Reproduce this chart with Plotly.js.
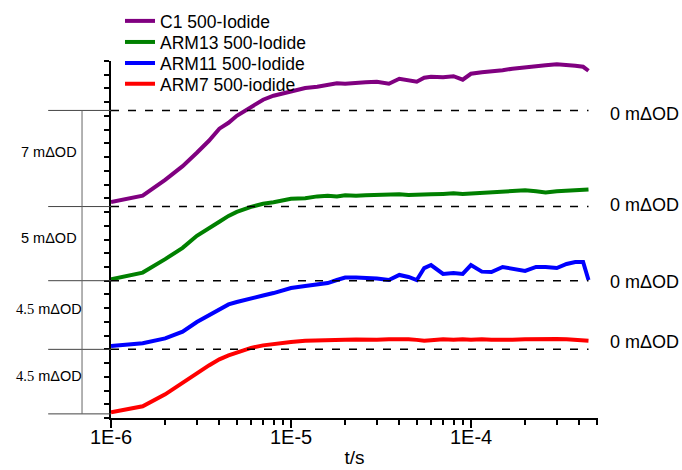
<!DOCTYPE html>
<html>
<head>
<meta charset="utf-8">
<script src="https://cdn.plot.ly/plotly-3.0.1.min.js"></script>
<style>html,body{margin:0;padding:0;background:#fff;}#chart{width:682px;height:470px;}</style>
</head>
<body>
<div id="chart"></div>
<script>
// time axis (microseconds)
const timeUs = [1.0,1.5,2.0,2.5,3.0,3.5,4.0,4.5,5,6,7,8,9,10,12,14,16,18,20,23,26,30,35,40,45,50,55,60,70,80,90,100,115,130,150,170,200,230,260,300,340,380,420,450];

// signals in mΔOD-like axis units, relative to each trace's own zero line
const c1 = [-6.67,-6.21,-5.05,-4.06,-3.08,-2.21,-1.33,-0.90,-0.39,0.27,0.78,1.07,1.22,1.36,1.63,1.73,1.87,1.98,1.94,2.02,2.05,2.09,1.94,2.31,2.16,2.09,2.38,2.45,2.42,2.49,2.24,2.67,2.78,2.82,2.93,3.04,3.11,3.22,3.29,3.36,3.33,3.26,3.18,2.89];
const arm13 = [-5.30,-4.81,-3.83,-3.01,-2.13,-1.62,-1.11,-0.68,-0.39,-0.02,0.20,0.31,0.45,0.56,0.60,0.74,0.78,0.74,0.82,0.78,0.82,0.85,0.82,0.89,0.85,0.89,0.92,0.89,0.92,0.96,0.92,0.96,1.00,1.00,1.07,1.11,1.18,1.11,1.03,1.11,1.14,1.18,1.22,1.25];
const arm11 = [-4.76,-4.56,-4.20,-3.71,-3.01,-2.50,-2.06,-1.73,-1.55,-1.26,-1.08,-0.90,-0.68,-0.53,-0.39,-0.28,-0.17,0.05,0.23,0.23,0.20,0.16,0.05,0.42,0.27,0.05,0.92,1.14,0.49,0.56,0.49,1.14,0.66,0.63,1.00,0.85,0.71,1.00,1.00,0.92,1.22,1.36,1.36,0.05];
const arm7 = [-4.59,-4.15,-3.28,-2.48,-1.75,-1.17,-0.73,-0.44,-0.22,0.11,0.29,0.40,0.47,0.53,0.62,0.66,0.66,0.69,0.69,0.71,0.69,0.69,0.73,0.76,0.73,0.69,0.62,0.66,0.73,0.69,0.73,0.69,0.73,0.69,0.66,0.69,0.73,0.76,0.80,0.76,0.73,0.69,0.66,0.62];

const seriesNames = ["C1 500-Iodide","ARM13 500-Iodide","ARM11 500-Iodide","ARM7 500-iodide"];
const seriesColors = ["#800080","#008000","#0000ff","#ff0000"];
const offsets = [22.4, 15.4, 10.0, 5.0];          // stacking positions (zero lines)
const scaleLabels = ["7 mΔOD","5 mΔOD","4.5 mΔOD","4.5 mΔOD"];
const zeroLabel = "0 mΔOD";
const bracketBottom = 0.3;
const xTickVals = [1e-6,1e-5,1e-4];
const xTickText = ["1E-6","1E-5","1E-4"];

const signals = [c1, arm13, arm11, arm7];
const times = timeUs.map(v => v * 1e-6);
const tEnd = times[times.length - 1];
const legendIds = ["legend","legend2","legend3","legend4"];
const legendY = [1.112, 1.053, 0.994, 0.936];
const FONT = "Arial, Liberation Sans";

const traces = signals.map((s, i) => ({
  x: times,
  y: s.map(v => v + offsets[i]),
  type: "scatter",
  mode: "lines",
  name: seriesNames[i],
  legend: legendIds[i],
  line: {color: seriesColors[i], width: 4}
}));

// minor ticks 2..9 per decade
const minorVals = [];
for (let d = -6; d <= -4; d++) for (let k = 2; k <= 9; k++) { const v = k * Math.pow(10, d); if (v < 5.1e-4) minorVals.push(v); }

const shapes = [];
const annotations = [];
const rightYShift = [-4, 2, -1, 7];
offsets.forEach((o, i) => {
  shapes.push({type:"line", xref:"x", yref:"y", x0:1e-6, x1:tEnd, y0:o, y1:o,
               line:{color:"#000", width:1.5, dash:"8px,9px"}});
  shapes.push({type:"line", xref:"paper", yref:"y", x0:-0.129, x1:0, y0:o, y1:o,
               line:{color:"#444", width:1}});
  annotations.push({xref:"paper", yref:"y", x:1.0205, y:o, xanchor:"left", yanchor:"middle",
                    yshift:rightYShift[i], text:zeroLabel, showarrow:false,
                    font:{family:FONT, size:18, color:"#000"}});
  const lower = (i < offsets.length - 1) ? offsets[i+1] : bracketBottom;
  const txt = scaleLabels[i].startsWith("4.5")
    ? '<span style="font-family:Liberation Serif, Times New Roman">4.5</span> mΔOD'
    : scaleLabels[i];
  annotations.push({xref:"paper", yref:"y", x:-0.1273, y:(o + lower)/2, xanchor:"center", yanchor:"middle",
                    yshift:6, text:txt, showarrow:false,
                    font:{family:FONT, size:14.5, color:"#000"}});
});
// x tick labels
xTickVals.forEach((v, i) => {
  annotations.push({xref:"x", yref:"paper", x:Math.log10(v), y:-0.0532, xanchor:"center", yanchor:"middle",
                    text:xTickText[i], showarrow:false, font:{family:FONT, size:20, color:"#000"}});
});
shapes.push({type:"line", xref:"paper", yref:"y", x0:-0.129, x1:0, y0:bracketBottom, y1:bracketBottom,
             line:{color:"#444", width:1}});
shapes.push({type:"line", xref:"paper", yref:"y", x0:-0.0595, x1:-0.0595, y0:bracketBottom, y1:offsets[0],
             line:{color:"#666", width:1}});

const layout = {
  width: 682, height: 470,
  margin: {l:111, r:84, t:61, b:52, autoexpand:false},
  paper_bgcolor: "#fff", plot_bgcolor: "#fff",
  showlegend: true,
  xaxis: {type:"log", range:[-6, -3.294], showline:true, linecolor:"#000", linewidth:2,
          showgrid:false, zeroline:false, tickmode:"array", tickvals:xTickVals, ticktext:xTickText,
          showticklabels:false,
          ticks:"outside", ticklen:8, tickwidth:2, tickcolor:"#000",
          minor:{tickmode:"array", tickvals:minorVals, ticks:"outside", ticklen:5, tickwidth:2, tickcolor:"#000", showgrid:false},
          title:{text:"t/s", font:{family:FONT, size:19, color:"#000"}, standoff:24}},
  yaxis: {range:[0, 26], showline:true, linecolor:"#000", linewidth:2, showgrid:false, zeroline:false,
          tickmode:"linear", tick0:0, dtick:1, ticks:"outside", ticklen:5, tickwidth:2, tickcolor:"#000",
          showticklabels:false},
  shapes: shapes,
  annotations: annotations
};
legendIds.forEach((id, i) => {
  layout[id] = {x:0.0185, y:legendY[i], xanchor:"left", yanchor:"middle", bgcolor:"rgba(0,0,0,0)",
                borderwidth:0, font:{family:FONT, size:17.5, color:"#000"}};
});

Plotly.newPlot("chart", traces, layout, {staticPlot:true, displayModeBar:false});
</script>
</body>
</html>
